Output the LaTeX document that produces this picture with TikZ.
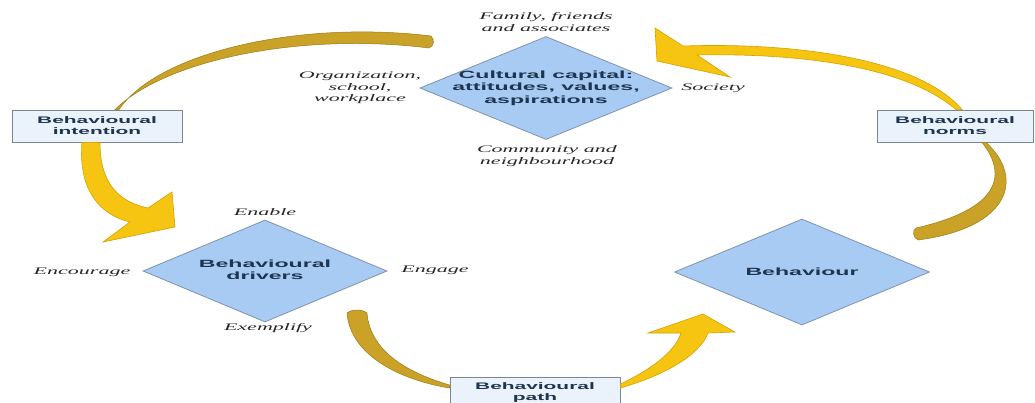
\documentclass[tikz,border=0pt]{standalone}
\usepackage{fontspec}
\usetikzlibrary{shapes.geometric}
\newfontfamily\bw{Liberation Sans}[FakeStretch=2.2]
\newfontfamily\iw{Liberation Serif}[FakeStretch=2.2]
\definecolor{diafill}{HTML}{A8CBF3}
\definecolor{diaedge}{HTML}{7F93AE}
\definecolor{boxfill}{HTML}{EAF3FB}
\definecolor{boxedge}{HTML}{7D8590}
\definecolor{txtcol}{HTML}{1E3550}
\definecolor{goldfill}{HTML}{C9A227}
\definecolor{goldedge}{HTML}{9C7C14}
\definecolor{yelfill}{HTML}{F6C511}
\definecolor{yeledge}{HTML}{D3A200}
\newcommand\zbox[1]{\makebox[0pt]{\vbox to 0pt{\vss\hbox{#1}\vss}}}
\newcommand\lines[1]{\begin{tabular}{@{}c@{}}#1\end{tabular}}
\begin{document}
\begin{tikzpicture}[x=1pt,y=-1pt,
  dia/.style={diamond, draw=diaedge, fill=diafill, line width=0.8pt, inner sep=0pt,
    font=\bw\bfseries\fontsize{10.5}{12.5}\selectfont, text=txtcol},
  infobox/.style={rectangle, draw=boxedge, fill=boxfill, line width=0.8pt,
    minimum height=32pt, inner sep=0pt, align=center,
    font=\bw\bfseries\fontsize{9.5}{11}\selectfont, text=txtcol},
  lab/.style={align=center, inner sep=0pt, text=black!85,
    font=\iw\itshape\fontsize{10}{11.5}\selectfont},
  goldarc/.style={fill=goldfill, draw=goldedge, line width=0.5pt},
  yelarrow/.style={fill=yelfill, draw=yeledge, line width=0.6pt}]
\useasboundingbox (0,0) rectangle (1035,402);
\fill[white] (0,0) rectangle (1035,402);

% diamonds
\node[dia, minimum width=252pt, minimum height=103pt] (cap) at (546,88)
  {\zbox{\lines{Cultural capital:\\attitudes, values,\\aspirations}}};
\node[dia, minimum width=244pt, minimum height=102pt] (drv) at (265,271)
  {\zbox{\lines{Behavioural\\drivers}}};
\node[dia, minimum width=255pt, minimum height=106pt] (beh) at (802,272)
  {\zbox{Behaviour}};

% labels around cultural capital
\node[lab] (fam) at (546,22) {Family, friends\\and associates};
\node[lab] (org) at (360,88) {Organization,\\school,\\workplace};
\node[lab] (soc) at (713,88) {Society};
\node[lab] (com) at (547,156) {Community and\\neighbourhood};

% labels around behavioural drivers
\node[lab] (ena) at (265,212) {Enable};
\node[lab] (eng) at (435,270) {Engage};
\node[lab] (exe) at (268,328) {Exemplify};
\node[lab] (enc) at (82,272) {Encourage};

% boxes
\node[infobox, minimum width=170pt] (bint) at (97,126) {Behavioural\\intention};
\node[infobox, minimum width=156pt] (bnorm) at (955,126) {Behavioural\\norms};
\node[infobox, minimum width=170pt] (bpath) at (535,393) {Behavioural\\path};

% top-left arc (from intention box)
\path[goldarc] ([xshift=22pt]bint.north) .. controls (158,52) and (300,20) .. (431,36)
  .. controls (435,40) and (434,46) .. (429,48)
  .. controls (300,32) and (165,60) .. ([xshift=18pt]bint.north) -- cycle;

% left arrow (intention -> drivers)
\path[yelarrow] ([xshift=-15pt]bint.south) .. controls (78,190) and (100,215) .. (130,222)
  -- (103,242) -- (175,227) -- (172,192) -- (148,208)
  .. controls (120,202) and (100,185) .. ([xshift=3pt]bint.south) -- cycle;

% bottom-left arc (to path box)
\path[goldarc] (347,313) .. controls (350,355) and (400,380) .. ([yshift=5pt]bpath.west)
  -- ([yshift=8pt]bpath.west) .. controls (405,372) and (370,350) .. (367,313)
  .. controls (362,309) and (352,309) .. (347,313) -- cycle;

% bottom-right arrow (path -> behaviour)
\path[yelarrow] ([yshift=5pt]bpath.east) .. controls (665,375) and (700,355) .. (708,333)
  -- (735,332) -- (703,314) -- (648,333) -- (681,333)
  .. controls (675,352) and (650,370) .. ([yshift=9pt]bpath.east) -- cycle;

% right arc (behaviour -> norms box)
\path[goldarc] ([xshift=31pt]bnorm.south) .. controls (1025,178) and (1010,228) .. (918,240)
  .. controls (913,238) and (912,230) .. (916,228)
  .. controls (995,210) and (1010,178) .. ([xshift=27pt]bnorm.south) -- cycle;

% top-right arrow (norms -> cultural capital)
\path[yelarrow] ([xshift=7pt]bnorm.north) .. controls (920,60) and (800,42) .. (683,46)
  -- (655,28) -- (657,61) -- (730,77) -- (697,55)
  .. controls (800,53) and (905,66) .. ([xshift=1pt]bnorm.north) -- cycle;
\end{tikzpicture}
\end{document}
